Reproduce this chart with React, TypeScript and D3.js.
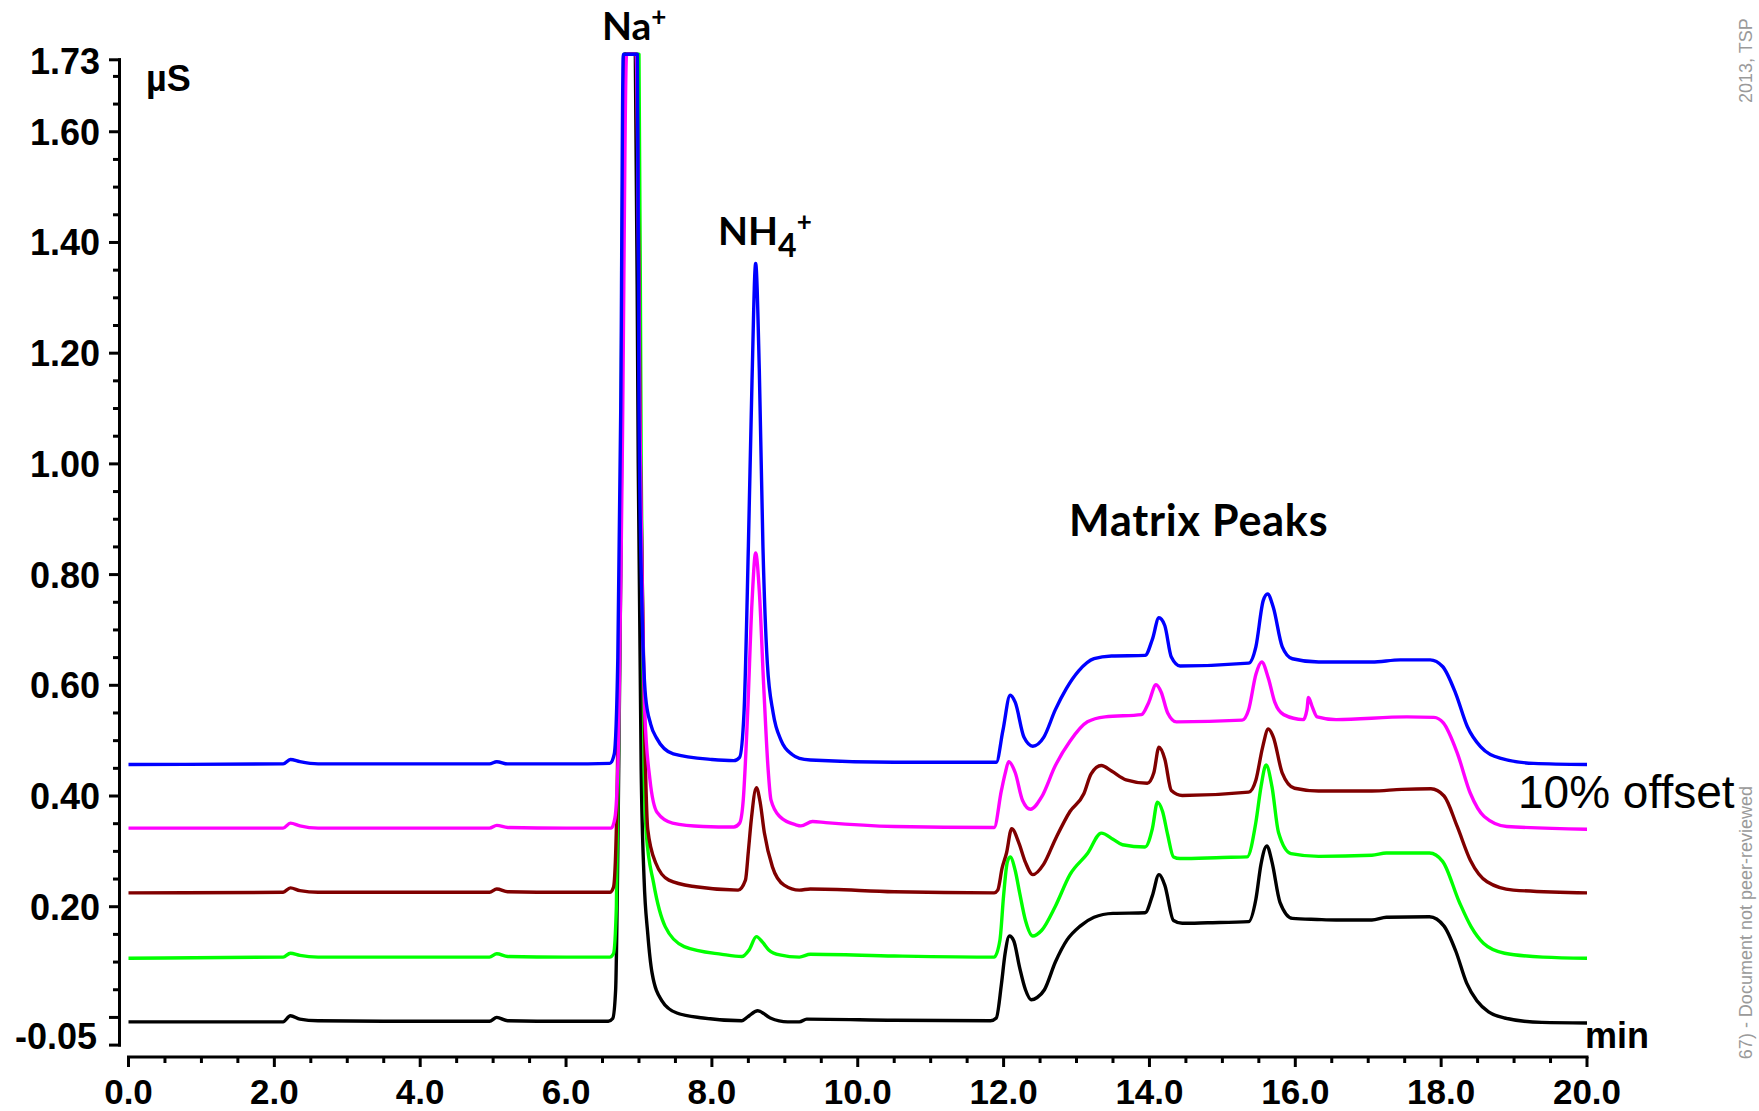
import React, { useEffect } from "react";
import * as d3 from "d3";

type Pt = [number, number];

// x axis: retention time (min)
const xMajorTicks = [0, 2, 4, 6, 8, 10, 12, 14, 16, 18, 20];
// y axis: conductivity (µS)
const yMajorTicks = [0.0, 0.2, 0.4, 0.6, 0.8, 1.0, 1.2, 1.4, 1.6];
const yLabelTicks = [0.2, 0.4, 0.6, 0.8, 1.0, 1.2, 1.4, 1.6];
const yDomain: Pt = [-0.05, 1.73];
const xDomain: Pt = [0, 20];

const seriesNames = ["black", "green", "maroon", "magenta", "blue"];
const seriesColors = ["#000000", "#00ff00", "#800000", "#ff00ff", "#0000ff"];

const blackTrace: Pt[] = [
  [0, -0.008], [1.0, -0.008], [2.12, -0.008], [2.22, 0.003], [2.35, -0.003], [2.6, -0.006],
  [3.5, -0.007], [4.95, -0.007], [5.05, 0.0], [5.2, -0.006], [6.0, -0.007], [6.58, -0.007],
  [6.64, -0.002], [6.68, 0.05], [6.71, 0.3], [6.75, 0.8], [6.8, 1.74], [6.95, 1.74],
  [6.99, 1.0], [7.03, 0.45], [7.07, 0.25], [7.12, 0.152], [7.18, 0.08], [7.31, 0.031],
  [7.52, 0.008], [7.88, -0.001], [8.41, -0.006], [8.49, 0.001], [8.63, 0.012], [8.8, -0.001],
  [9.04, -0.008], [9.2, -0.008], [9.3, -0.003], [10.5, -0.005], [11.82, -0.006], [11.9, -0.001],
  [11.97, 0.06], [12.02, 0.115], [12.08, 0.147], [12.14, 0.138], [12.22, 0.09], [12.3, 0.05],
  [12.38, 0.032], [12.46, 0.036], [12.56, 0.05], [12.71, 0.1], [12.87, 0.14], [13.05, 0.165],
  [13.24, 0.181], [13.5, 0.188], [13.94, 0.189], [14.04, 0.22], [14.13, 0.258], [14.21, 0.239],
  [14.33, 0.175], [14.45, 0.17], [14.8, 0.171], [15.36, 0.173], [15.46, 0.214], [15.53, 0.277],
  [15.61, 0.31], [15.68, 0.281], [15.79, 0.208], [15.96, 0.179], [16.3, 0.177], [16.56, 0.176],
  [17.05, 0.176], [17.25, 0.181], [17.84, 0.182], [18.04, 0.165], [18.2, 0.12], [18.35, 0.062],
  [18.49, 0.03], [18.65, 0.01], [18.87, -0.001], [19.38, -0.009], [20.0, -0.01],
];

const greenTrace: Pt[] = [
  [0, 0.107], [2.12, 0.109], [2.22, 0.116], [2.35, 0.112], [2.6, 0.109], [4.95, 0.109],
  [5.05, 0.115], [5.2, 0.11], [6.0, 0.109], [6.6, 0.109], [6.65, 0.115], [6.69, 0.2],
  [6.73, 0.6], [6.8, 1.74], [7.0, 1.74], [7.03, 1.0], [7.07, 0.45], [7.1, 0.333],
  [7.2, 0.243], [7.36, 0.164], [7.62, 0.128], [8.14, 0.114], [8.41, 0.11], [8.51, 0.122],
  [8.61, 0.146], [8.7, 0.135], [8.78, 0.122], [8.93, 0.113], [9.2, 0.109], [9.35, 0.114],
  [10.5, 0.111], [11.87, 0.109], [11.95, 0.14], [12.0, 0.22], [12.05, 0.28], [12.09, 0.29],
  [12.16, 0.265], [12.22, 0.225], [12.3, 0.175], [12.4, 0.147], [12.52, 0.157], [12.71, 0.201],
  [12.91, 0.258], [13.15, 0.296], [13.34, 0.333], [13.5, 0.322], [13.63, 0.312], [13.94, 0.308],
  [14.04, 0.341], [14.11, 0.389], [14.18, 0.372], [14.25, 0.33], [14.33, 0.29], [14.42, 0.287],
  [15.0, 0.289], [15.34, 0.29], [15.46, 0.353], [15.53, 0.417], [15.6, 0.456], [15.68, 0.417],
  [15.77, 0.334], [15.94, 0.296], [16.32, 0.291], [17.05, 0.293], [17.25, 0.297], [17.84, 0.297],
  [18.02, 0.282], [18.25, 0.208], [18.41, 0.164], [18.58, 0.134], [18.87, 0.116], [19.4, 0.109],
  [20.0, 0.107],
];

const maroonTrace: Pt[] = [
  [0, 0.225], [2.12, 0.226], [2.22, 0.234], [2.35, 0.229], [2.6, 0.226], [4.95, 0.226],
  [5.05, 0.232], [5.2, 0.227], [6.0, 0.226], [6.6, 0.226], [6.65, 0.235], [6.7, 0.4],
  [6.75, 0.9], [6.81, 1.74], [6.97, 1.74], [7.02, 1.0], [7.08, 0.5], [7.12, 0.34],
  [7.23, 0.279], [7.41, 0.248], [7.78, 0.236], [8.36, 0.23], [8.46, 0.248], [8.5, 0.3],
  [8.54, 0.357], [8.61, 0.415], [8.66, 0.39], [8.72, 0.333], [8.83, 0.272], [8.99, 0.239],
  [9.2, 0.23], [9.35, 0.232], [10.5, 0.227], [11.87, 0.225], [11.92, 0.23], [11.98, 0.27],
  [12.04, 0.297], [12.11, 0.341], [12.21, 0.315], [12.3, 0.28], [12.4, 0.258], [12.55, 0.277],
  [12.71, 0.322], [12.91, 0.372], [13.1, 0.404], [13.2, 0.44], [13.34, 0.455], [13.48, 0.445],
  [13.68, 0.429], [13.97, 0.423], [14.06, 0.442], [14.13, 0.488], [14.21, 0.467], [14.3, 0.41],
  [14.45, 0.401], [15.36, 0.407], [15.46, 0.429], [15.55, 0.487], [15.63, 0.521], [15.7, 0.506],
  [15.82, 0.442], [15.99, 0.414], [16.32, 0.409], [17.05, 0.409], [17.46, 0.412], [17.86, 0.413],
  [18.04, 0.4], [18.22, 0.345], [18.4, 0.284], [18.63, 0.245], [18.99, 0.23], [20.0, 0.225],
];

const magentaTrace: Pt[] = [
  [0, 0.342], [2.12, 0.342], [2.22, 0.351], [2.35, 0.346], [2.6, 0.342], [4.95, 0.342],
  [5.05, 0.347], [5.2, 0.343], [6.0, 0.342], [6.62, 0.342], [6.67, 0.36], [6.72, 0.5],
  [6.77, 1.0], [6.83, 1.74], [6.96, 1.74], [7.02, 1.0], [7.08, 0.55], [7.15, 0.43],
  [7.25, 0.37], [7.46, 0.351], [7.88, 0.345], [8.3, 0.344], [8.38, 0.351], [8.43, 0.393],
  [8.49, 0.55], [8.55, 0.75], [8.6, 0.839], [8.65, 0.77], [8.71, 0.6], [8.77, 0.45],
  [8.81, 0.393], [8.93, 0.363], [9.15, 0.348], [9.22, 0.346], [9.38, 0.354], [9.56, 0.352],
  [10.5, 0.345], [11.87, 0.343], [11.97, 0.41], [12.02, 0.44], [12.07, 0.462], [12.16, 0.442],
  [12.26, 0.392], [12.37, 0.376], [12.52, 0.398], [12.71, 0.455], [12.91, 0.499], [13.15, 0.534],
  [13.39, 0.543], [13.89, 0.547], [13.99, 0.569], [14.09, 0.601], [14.16, 0.588], [14.25, 0.55],
  [14.37, 0.534], [15.27, 0.537], [15.36, 0.556], [15.46, 0.62], [15.54, 0.642], [15.63, 0.613],
  [15.72, 0.569], [15.84, 0.547], [16.11, 0.538], [16.16, 0.556], [16.18, 0.578], [16.23, 0.562],
  [16.3, 0.543], [16.56, 0.538], [17.53, 0.543], [17.9, 0.542], [18.03, 0.532], [18.22, 0.478],
  [18.4, 0.405], [18.59, 0.363], [18.9, 0.345], [20.0, 0.34],
];

const blueTrace: Pt[] = [
  [0, 0.457], [2.12, 0.458], [2.22, 0.466], [2.35, 0.462], [2.6, 0.458], [4.95, 0.458],
  [5.05, 0.462], [5.2, 0.458], [6.0, 0.458], [6.6, 0.459], [6.66, 0.475], [6.71, 0.65],
  [6.75, 1.1], [6.785, 1.74], [6.978, 1.74], [7.0, 1.1], [7.04, 0.75], [7.09, 0.58],
  [7.16, 0.53], [7.24, 0.505], [7.47, 0.476], [8.0, 0.466], [8.3, 0.464], [8.38, 0.47],
  [8.44, 0.55], [8.5, 0.85], [8.55, 1.15], [8.6, 1.362], [8.65, 1.17], [8.7, 0.85],
  [8.76, 0.64], [8.84, 0.55], [8.95, 0.5], [9.1, 0.475], [9.2, 0.468], [9.35, 0.465],
  [10.5, 0.461], [11.9, 0.461], [11.99, 0.518], [12.09, 0.582], [12.16, 0.569], [12.28, 0.506],
  [12.4, 0.49], [12.55, 0.506], [12.71, 0.556], [12.86, 0.594], [13.03, 0.626], [13.24, 0.648],
  [13.48, 0.653], [13.94, 0.654], [14.04, 0.683], [14.13, 0.722], [14.21, 0.708], [14.3, 0.651],
  [14.42, 0.635], [15.36, 0.64], [15.46, 0.67], [15.56, 0.753], [15.62, 0.765], [15.7, 0.74],
  [15.82, 0.67], [15.96, 0.648], [16.32, 0.642], [17.05, 0.642], [17.44, 0.646], [17.85, 0.646],
  [18.02, 0.634], [18.2, 0.585], [18.36, 0.525], [18.54, 0.489], [18.82, 0.468], [19.27, 0.459],
  [20.0, 0.457],
];

const traceData = [blackTrace, greenTrace, maroonTrace, magentaTrace, blueTrace];

const W = 1759;
const H = 1111;
const AX = "Liberation Sans, Arial, sans-serif";
const LB = "Lato, 'Open Sans', sans-serif";

export default function App() {
  useEffect(() => {
    document.body.style.margin = "0";
  }, []);

  const x = d3.scaleLinear().domain(xDomain).range([128.5, 1587]);
  const y = d3.scaleLinear().domain(yDomain).range([1045.1, 59.8]);
  const line = d3
    .line<Pt>()
    .x((d) => x(d[0]))
    .y((d) => y(d[1]))
    .curve(d3.curveMonotoneX);

  const yAxisX = 119.5;
  const xAxisY = 1057;
  const yMinor = d3.range(0.05, 1.7001, 0.05).filter(
    (v) => !yMajorTicks.some((m) => Math.abs(m - v) < 1e-6)
  );
  const xMinor = d3.range(0, 20.0001, 0.5).filter((v) => Math.abs(v % 2) > 1e-6);

  return (
    <svg
      width={W}
      height={H}
      viewBox={`0 0 ${W} ${H}`}
      style={{ position: "absolute", left: 0, top: 0, display: "block", background: "#fff" }}
    >
      <rect x={0} y={0} width={W} height={H} fill="#fff" />

      {/* traces */}
      {traceData.map((d, i) => (
        <path
          key={seriesNames[i]}
          d={line(d) || ""}
          fill="none"
          stroke={seriesColors[i]}
          strokeWidth={3.4}
          strokeLinejoin="round"
        />
      ))}

      {/* y axis */}
      <line x1={yAxisX} x2={yAxisX} y1={y(yDomain[1]) - 1.5} y2={y(yDomain[0]) + 1.5} stroke="#000" strokeWidth={3} />
      <line x1={109} x2={yAxisX + 1.5} y1={y(yDomain[1])} y2={y(yDomain[1])} stroke="#000" strokeWidth={3} />
      <line x1={109} x2={yAxisX + 1.5} y1={y(yDomain[0])} y2={y(yDomain[0])} stroke="#000" strokeWidth={3} />
      {yMajorTicks.map((v) => (
        <line key={"ym" + v} x1={109} x2={yAxisX} y1={y(v)} y2={y(v)} stroke="#000" strokeWidth={3} />
      ))}
      {yMinor.map((v) => (
        <line key={"yn" + v} x1={113} x2={yAxisX} y1={y(v)} y2={y(v)} stroke="#000" strokeWidth={3} />
      ))}
      {yLabelTicks.map((v) => (
        <text key={"yl" + v} x={100} y={y(v) + 13} textAnchor="end" fontFamily={AX} fontWeight="bold" fontSize={36} fill="#000">
          {v.toFixed(2)}
        </text>
      ))}
      <text x={100} y={y(yDomain[1]) + 14} textAnchor="end" fontFamily={AX} fontWeight="bold" fontSize={36} fill="#000">
        {yDomain[1].toFixed(2)}
      </text>
      <text x={97} y={y(yDomain[0]) + 4} textAnchor="end" fontFamily={AX} fontWeight="bold" fontSize={36} fill="#000">
        {yDomain[0].toFixed(2)}
      </text>
      <text x={146} y={91} fontFamily={AX} fontWeight="bold" fontSize={36} fill="#000">µS</text>

      {/* x axis */}
      <line x1={x(0) - 1.5} x2={x(20) + 1.5} y1={xAxisY} y2={xAxisY} stroke="#000" strokeWidth={3} />
      {xMajorTicks.map((v) => (
        <line key={"xm" + v} x1={x(v)} x2={x(v)} y1={xAxisY} y2={xAxisY + 10} stroke="#000" strokeWidth={3} />
      ))}
      {xMinor.map((v) => (
        <line key={"xn" + v} x1={x(v)} x2={x(v)} y1={xAxisY} y2={xAxisY + 6} stroke="#000" strokeWidth={3} />
      ))}
      {xMajorTicks.map((v) => (
        <text key={"xl" + v} x={x(v)} y={1104} textAnchor="middle" fontFamily={AX} fontWeight="bold" fontSize={35} fill="#000">
          {v.toFixed(1)}
        </text>
      ))}
      <text x={1585} y={1048} fontFamily={AX} fontWeight="bold" fontSize={36} fill="#000">min</text>

      {/* annotations */}
      <text x={602} y={40} fontFamily={LB} fontWeight="bold" fontSize={39} fill="#000">
        Na<tspan dy={-14} fontSize={26}>+</tspan>
      </text>
      <text x={718} y={245} fontFamily={LB} fontWeight="bold" fontSize={39} fill="#000">
        NH<tspan dy={12} fontSize={32}>4</tspan><tspan dy={-26} fontSize={26}>+</tspan>
      </text>
      <text x={1069} y={536} fontFamily={LB} fontWeight="bold" fontSize={43} letterSpacing={0.8} fill="#000">Matrix Peaks</text>
      <text x={1518} y={808} fontFamily={AX} fontSize={46} fill="#000">10% offset</text>

      {/* side watermark */}
      <text transform="translate(1752,103) rotate(-90)" fontFamily={AX} fontSize={18} fill="#9a9a9a">2013, TSP</text>
      <text transform="translate(1752,786) rotate(-90)" textAnchor="end" fontFamily={AX} fontSize={18} fill="#9a9a9a">
        67) - Document not peer-reviewed
      </text>
    </svg>
  );
}
